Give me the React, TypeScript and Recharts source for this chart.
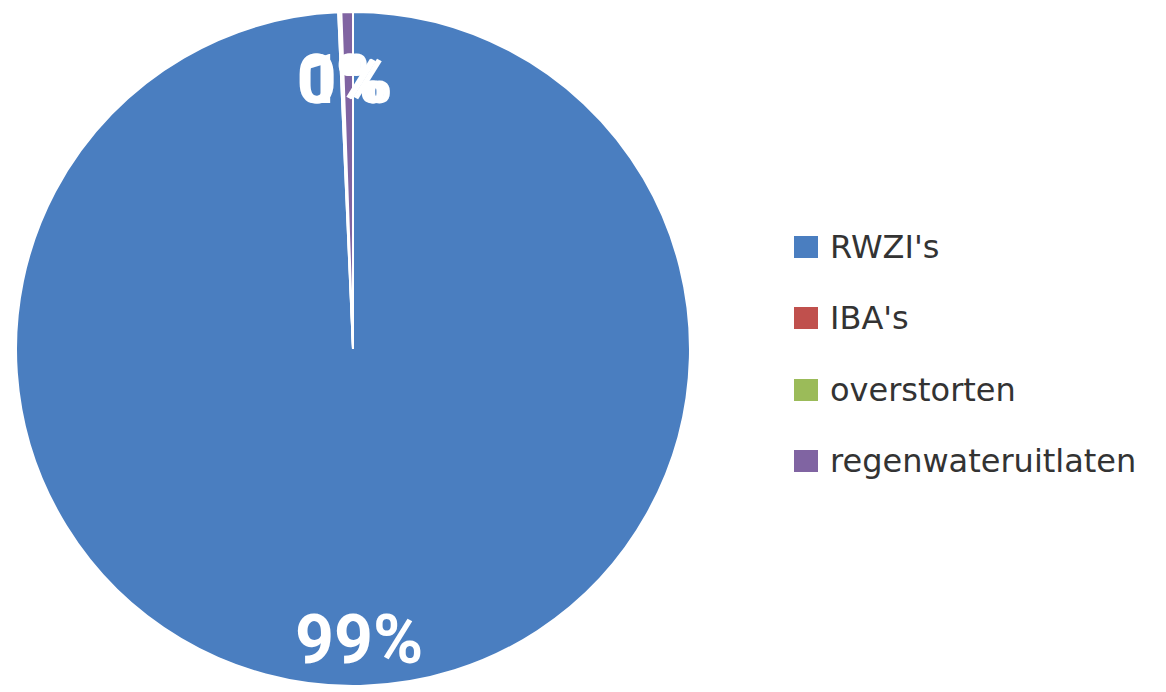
import { PieChart, Pie, Cell, Legend } from 'recharts';

// ---------------------------------------------------------------------------
// Data
// ---------------------------------------------------------------------------

const categories = ["RWZI's", "IBA's", 'overstorten', 'regenwateruitlaten'];
const shares = [99.3, 0.05, 0.1, 0.55];
const colors = ['#4A7EC0', '#C0504D', '#9BBB59', '#8064A2'];

const chartData = categories.map((name, i) => ({ name, value: shares[i] }));

const RAD = Math.PI / 180;

// ---------------------------------------------------------------------------
// Labels & legend
// ---------------------------------------------------------------------------

function SliceLabel(props: any) {
  const { cx, cy, midAngle, outerRadius, percent } = props;
  const r = outerRadius - 57;
  const x = cx + r * Math.cos(-midAngle * RAD);
  const y = cy + r * Math.sin(-midAngle * RAD) + 11;
  return (
    <text
      x={x}
      y={y}
      fill="#ffffff"
      textAnchor="middle"
      dominantBaseline="central"
      style={{ fontFamily: 'Roboto, sans-serif', fontWeight: 700, fontSize: 68 }}
    >
      {`${Math.round(percent * 100)}%`}
    </text>
  );
}

// legend keeps the series order (Recharts would sort the payload otherwise)
function SideLegend() {
  return (
    <div>
      {categories.map((name, i) => (
        <div key={name} style={{ display: 'flex', alignItems: 'center', height: 71.5 }}>
          <span
            style={{
              display: 'inline-block',
              width: 24,
              height: 22,
              background: colors[i],
              marginRight: 12,
            }}
          />
          <span
            style={{
              fontFamily: '"DejaVu Sans", sans-serif',
              fontSize: 32,
              color: '#333333',
              whiteSpace: 'nowrap',
            }}
          >
            {name}
          </span>
        </div>
      ))}
    </div>
  );
}

// ---------------------------------------------------------------------------
// Component
// ---------------------------------------------------------------------------

export default function App() {
  return (
    <div style={{ position: 'absolute', left: 0, top: 0, width: 1166, height: 692, background: '#fff' }}>
      <PieChart width={1166} height={692} margin={{ top: 0, right: 0, bottom: 0, left: 0 }}>
        <Pie
          data={chartData}
          dataKey="value"
          nameKey="name"
          cx={353}
          cy={349}
          outerRadius={337}
          startAngle={90}
          endAngle={-270}
          stroke="#ffffff"
          strokeWidth={2}
          label={SliceLabel}
          labelLine={false}
          isAnimationActive={false}
        >
          {chartData.map((d, i) => (
            <Cell key={d.name} fill={colors[i]} />
          ))}
        </Pie>
        <Legend
          content={<SideLegend />}
          layout="vertical"
          wrapperStyle={{ left: 794, top: 211, width: 372 }}
        />
      </PieChart>
    </div>
  );
}
